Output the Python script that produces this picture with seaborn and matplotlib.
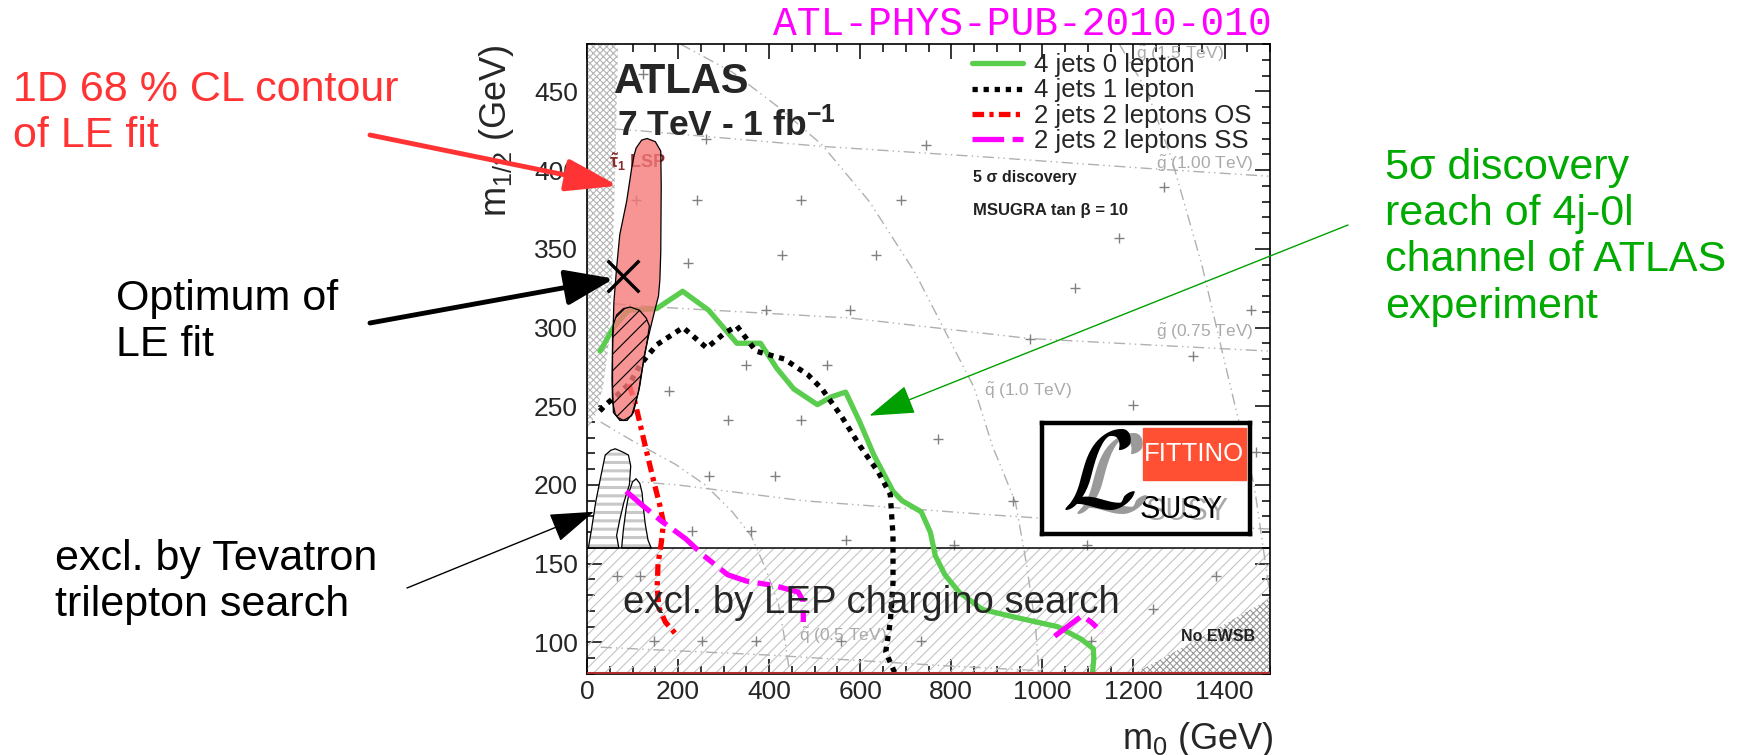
import matplotlib
matplotlib.use('Agg')
import numpy as np
import pandas as pd
import matplotlib.pyplot as plt
import seaborn as sns
from matplotlib.patches import Polygon, Rectangle
from matplotlib.ticker import MultipleLocator
from matplotlib import font_manager

# ---- data (m0, m1/2 in GeV) ----
green_m0 = [29, 58, 91, 153, 210, 267, 329, 381, 417, 454, 506, 537, 568, 599, 630, 672, 692,
            734, 754, 765, 786, 817, 868, 941, 1034, 1086, 1112, 1113, 1110]
green_m12 = [285, 300, 311, 312, 323, 311, 290, 290, 274, 261, 251, 256, 259, 240, 219, 196, 190,
             183, 170, 155, 143, 132, 121, 116, 110, 102, 96, 90, 80]

black_m0 = [28, 45, 70, 95, 116, 153, 211, 263, 300, 329, 371, 433, 485, 516, 558, 599, 640,
            666, 672, 672, 666, 656, 677]
black_m12 = [247, 252, 258, 265, 276, 289, 300, 287, 296, 301, 285, 280, 270, 261, 244, 225, 208,
             194, 168, 138, 113, 94, 80]

red_m0 = [92, 105, 118, 131, 146, 160, 168, 163, 156, 154, 158, 172, 196]
red_m12 = [264, 253, 237, 221, 203, 187, 176, 163, 150, 135, 122, 113, 105]

mag_a_m0 = [86, 122, 164, 216, 257, 309, 350, 413, 464, 475, 475]
mag_a_m12 = [196, 187, 177, 166, 155, 143, 139, 136, 132, 126, 113]
mag_b_m0 = [1027, 1087, 1107, 1133]
mag_b_m12 = [104, 117, 113, 106]

# LE fit 1D 68% CL contour and the hatched contour inside it
fit_m0 = [108, 120, 132, 150, 162, 163, 162, 160, 157, 149, 138, 127, 116, 102, 88, 72, 62, 56,
          55, 56, 59, 65, 72, 87, 98, 104]
fit_m12 = [414, 419, 420, 418, 412, 390, 348, 330, 320, 311, 298, 284, 263, 246, 241, 241, 245,
           253, 268, 285, 316, 338, 359, 380, 401, 410]
hatch_m0 = [95, 115, 130, 137, 131, 120, 113, 98, 80, 67, 58, 56, 56, 58, 65, 80]
hatch_m12 = [313, 311, 306, 301, 289, 272, 259, 244, 241, 243, 246, 263, 295, 302, 308, 312]
best_m0 = [78]
best_m12 = [333]

# Tevatron trilepton exclusions
tev1_m0 = [3, 10, 19, 30, 40, 52, 62, 78, 91, 96, 93, 81, 72, 65, 68, 70]
tev1_m12 = [160, 172, 189, 205, 219, 222, 223, 221, 219, 212, 200, 189, 178, 168, 163, 160]
tev2_m0 = [76, 80, 86, 93, 100, 108, 116, 121, 124, 128, 134, 141]
tev2_m12 = [160, 172, 185, 196, 202, 204, 201, 195, 185, 175, 165, 160]

# theoretically excluded regions
stau_m0 = [0, 68, 62, 55, 48, 35, 20, 0]
stau_m12 = [480, 480, 400, 330, 290, 262, 245, 235]
noewsb_m0 = [1200, 1360, 1500, 1500]
noewsb_m12 = [80, 105, 128, 80]
lep_m12 = 160

# iso-mass lines
iso_lines = {
    'g100': ([60, 112, 516, 889, 1231, 1500], [426, 425, 415, 408, 401, 396]),
    'g075': ([60, 153, 578, 972, 1231, 1500], [315, 313, 306, 293, 289, 285]),
    'g050': ([30, 200, 475, 889, 993, 1500], [204, 200, 190, 181, 179, 172]),
    'g025': ([30, 400, 800, 1000], [97, 92, 85, 82]),
    'q05': ([30, 100, 195, 260, 319, 360, 392, 420, 433, 444], [240, 228, 213, 200, 183, 168, 147, 125, 104, 83]),
    'q10': ([205, 320, 420, 516, 620, 720, 800, 850, 890, 941, 965, 985, 993], [480, 462, 440, 416, 380, 335, 290, 262, 225, 189, 150, 110, 80]),
    'q15': ([1169, 1230, 1283, 1350, 1407, 1440, 1465, 1485, 1500], [480, 450, 408, 340, 270, 230, 200, 160, 130]),
}
iso_label_text = [r'$\tilde{g}$ (1.00 TeV)', r'$\tilde{g}$ (0.75 TeV)', r'$\tilde{q}$ (1.0 TeV)',
                  r'$\tilde{q}$ (0.5 TeV)', r'$\tilde{g}$ (1.5 TeV)']
iso_label_m0 = [1250, 1250, 872, 465, 1205]
iso_label_m12 = [404, 297, 260, 104, 474]

# scan points
plus_m0 = [122, 262, 744, 107, 241, 470, 690, 1268, 428, 635, 221, 1169, 1071, 392, 578, 1459,
           972, 1330, 350, 527, 179, 309, 470, 1200, 770, 267, 413, 936, 231, 361, 568, 806, 1097,
           65, 117, 1382, 1242, 148, 252, 371, 558, 734, 672, 1470, 1107]
plus_m12 = [461, 420, 416, 381, 381, 381, 381, 389, 346, 346, 341, 357, 325, 311, 311, 311, 293,
            282, 276, 276, 260, 241, 241, 251, 229, 206, 206, 190, 171, 171, 165, 162, 162, 142,
            142, 142, 121, 101, 101, 101, 101, 101, 126, 221, 101]

legend_labels = ['4 jets 0 lepton', '4 jets 1 lepton', '2 jets 2 leptons OS', '2 jets 2 leptons SS']

# ---- style ----
sns.set_style('ticks')
plt.rcParams['font.family'] = ['Liberation Sans', 'DejaVu Sans']
plt.rcParams['mathtext.fontset'] = 'custom'
plt.rcParams['mathtext.rm'] = 'Liberation Sans'
plt.rcParams['mathtext.it'] = 'Liberation Sans:italic'
plt.rcParams['mathtext.bf'] = 'Liberation Sans:bold'
plt.rcParams['mathtext.default'] = 'regular'
plt.rcParams['hatch.linewidth'] = 0.8

names = {f.name for f in font_manager.fontManager.ttflist}
narrow = 'Liberation Sans Narrow' if 'Liberation Sans Narrow' in names else None

fig = plt.figure(figsize=(17.46, 7.55), dpi=100)
ax = fig.add_axes([0.3362, 0.1073, 0.3912, 0.8344])
ax.set_xlim(0, 1500)
ax.set_ylim(80, 480)


def region(xs, ys, **kw):
    p = Polygon(np.column_stack([xs, ys]), closed=True, **kw)
    ax.add_patch(p)
    return p


def curve(xs, ys, **kw):
    df = pd.DataFrame({'m0': xs, 'm12': ys})
    sns.lineplot(data=df, x='m0', y='m12', sort=False, estimator=None, ax=ax, **kw)
    return ax.lines[-1]


# excluded regions
region(stau_m0, stau_m12, facecolor='white', edgecolor='#b5b5b5', hatch='xxxxx', lw=0, zorder=1)
region(noewsb_m0, noewsb_m12, facecolor='white', edgecolor='#9a9a9a', hatch='xxxxx', lw=0, zorder=1.2)
lep = Rectangle((0, 80), 1500, lep_m12 - 80, facecolor='none', edgecolor='#c4c4c4', hatch='///', lw=0, zorder=1)
ax.add_patch(lep)
ax.axhline(lep_m12, color='black', lw=1.1, zorder=2.1)

# iso-mass lines and labels
for key, (xs, ys) in iso_lines.items():
    curve(xs, ys, color='#b0b0b0', lw=1.0, linestyle=(0, (8, 3, 1, 3, 1, 3)), zorder=1.5)
for t, x, y in zip(iso_label_text, iso_label_m0, iso_label_m12):
    ax.text(x, y, t, color='#aaaaaa', fontsize=12.5, va='center', ha='left', zorder=1.7)

sns.scatterplot(x=plus_m0, y=plus_m12, marker='+', color='#808080', s=55, linewidth=1, ax=ax, zorder=1.6)

# Tevatron exclusions
for xs, ys in [(tev1_m0, tev1_m12), (tev2_m0, tev2_m12)]:
    p = region(xs, ys, facecolor='white', edgecolor='#c8c8c8', hatch='--', lw=0, zorder=2)
    if hasattr(p, 'set_hatch_linewidth'):
        p.set_hatch_linewidth(2.2)
    region(xs, ys, fill=False, edgecolor='black', lw=0.9, zorder=2.2)

# discovery reach curves
lw = 3.8
g_line = curve(green_m0, green_m12, color='#5acd4f', lw=lw, zorder=3)
k_line = curve(black_m0, black_m12, color='black', lw=lw, linestyle=(0, (1, 1.1)), zorder=3)
r_line = curve(red_m0, red_m12, color='#ff0000', lw=lw, linestyle=(0, (2.2, 1, 0.8, 1)), zorder=3)
m_line = curve(mag_a_m0, mag_a_m12, color='#ff00ff', lw=lw, linestyle=(0, (6, 1.6, 2.4, 1.6)), zorder=3)
curve(mag_b_m0, mag_b_m12, color='#ff00ff', lw=lw, linestyle=(0, (6, 1.6, 2.4, 1.6)), zorder=3)

ax.text(48, 405, r'$\tilde{\tau}_1$ LSP', color='#8b2a2a', fontsize=13, fontweight='bold',
        va='center', zorder=2.5)

# LE fit
region(fit_m0, fit_m12, facecolor=(0.9625, 0.475, 0.475, 0.8), edgecolor='black', lw=0.9, zorder=4)
region(hatch_m0, hatch_m12, facecolor='none', edgecolor='black', hatch='//', lw=0.9, zorder=4.5)
sns.scatterplot(x=best_m0, y=best_m12, marker='x', color='black', s=520, linewidth=2.4, ax=ax, zorder=5)

# bottom frame line
ax.axhline(80.6, color='#b03030', lw=1.5, zorder=5)

# texts in the frame
ax.text(59, 449, 'ATLAS', fontsize=30, fontweight='bold', va='baseline', zorder=6)
ax.text(66, 421.5, r'7 TeV - 1 fb$^{-1}$', fontsize=25.5, fontweight='bold', va='baseline', zorder=6)
ax.text(848, 395.5, '5 σ discovery', fontsize=11.5, fontweight='bold', va='center', color='#222222')
ax.text(848, 374.5, 'MSUGRA tan β = 10', fontsize=12, fontweight='bold', va='center', color='#222222')
ax.text(1385, 104, 'No EWSB', fontsize=11.5, fontweight='bold', ha='center', va='center',
        color='#222222', zorder=6)
ax.text(79, 118.8, 'excl. by LEP chargino search', fontsize=27.6, va='baseline', zorder=6)

leg = ax.legend(handles=[g_line, k_line, r_line, m_line], labels=legend_labels, loc='upper left',
                bbox_to_anchor=(0.5637, 0.985), frameon=False, fontsize=18.5, handlelength=2.0,
                handletextpad=0.4, labelspacing=0.04, borderpad=0, borderaxespad=0)
leg.set_zorder(6)

# axes styling (ROOT look)
ax.set_xticks(range(0, 1401, 200))
ax.set_yticks(range(100, 451, 50))
ax.xaxis.set_minor_locator(MultipleLocator(50))
ax.yaxis.set_minor_locator(MultipleLocator(10))
ax.tick_params(which='both', direction='in', top=True, right=True, labelsize=19, width=1.1, color='black')
ax.tick_params(which='major', length=11)
ax.tick_params(which='minor', length=5.5)
ax.tick_params(axis='x', pad=4.5)
ax.tick_params(axis='y', pad=6.5)
for s in ax.spines.values():
    s.set_linewidth(1.2)
    s.set_color('black')
ax.set_xlabel('')
ax.set_ylabel('')
ax.text(1.006, -0.1195, r'm$_0$ (GeV)', transform=ax.transAxes, ha='right', va='baseline', fontsize=26)
ax.text(-0.133, 1.0, r'm$_{1/2}$ (GeV)', transform=ax.transAxes, ha='center', va='top',
        rotation=90, fontsize=26)

# outside annotations
fig.text(773 / 1746, 1 - 35 / 755, 'ATL-PHYS-PUB-2010-010', family='Liberation Mono', fontsize=28.5,
         color='#ff00ff', va='baseline')
fig.text(13 / 1746, 1 - 70 / 755, '1D 68 % CL contour\nof LE fit', color='#ff3333', fontsize=31,
         va='top', ha='left')
fig.text(116 / 1746, 1 - 279 / 755, 'Optimum of\nLE fit', color='black', fontsize=31, va='top', ha='left')
fig.text(55 / 1746, 1 - 539 / 755, 'excl. by Tevatron\ntrilepton search', color='black', fontsize=31,
         va='top', ha='left')
fig.text(1385 / 1746, 1 - 148 / 755, '5σ discovery\nreach of 4j-0l\nchannel of ATLAS\nexperiment',
         color='#00aa00', fontsize=31, va='top', ha='left')

arrows = [
    ((68, 390), (370, 755 - 135), '#ff3333', 3.5, 1.6, 0.5),
    ((59, 331), (370, 755 - 323), 'black', 3.5, 1.5, 0.55),
    ((15, 183), (407, 755 - 588), 'black', 1.0, 1.4, 0.47),
    ((620, 244), (1348, 755 - 225), '#00a000', 1.0, 1.45, 0.47),
]
for tip, tail, col, w, hl, hw in arrows:
    ax.annotate('', xy=tip, xycoords='data', xytext=tail, textcoords='figure pixels',
                arrowprops=dict(arrowstyle=f'-|>,head_length={hl},head_width={hw}', color=col, lw=w,
                                mutation_scale=20, shrinkA=0, shrinkB=0), zorder=7,
                annotation_clip=False)

# Fittino logo
axl = fig.add_axes([1041.7 / 1746, 1 - 534 / 755, 208.3 / 1746, 110.7 / 755])
axl.set_xlim(0, 1)
axl.set_ylim(0, 1)
axl.set_xticks([])
axl.set_yticks([])
axl.set_facecolor('white')
for s in axl.spines.values():
    s.set_linewidth(3.2)
    s.set_color('black')
axl.add_patch(Rectangle((0.485, 0.488), 0.495, 0.47, color='#ff5033'))
fit_font = dict(family=narrow, fontsize=21) if narrow else dict(fontsize=18.5)
susy_font = dict(family=narrow, fontsize=26) if narrow else dict(fontsize=22)
axl.text(0.732, 0.72, 'FITTINO', color='white', ha='center', va='center', **fit_font)
axl.text(0.70, 0.20, 'SUSY', color='#a8a8a8', ha='center', va='center', **susy_font)
axl.text(0.671, 0.217, 'SUSY', color='black', ha='center', va='center', **susy_font)
axl.text(0.33, 0.46, r'$\mathcal{L}$', math_fontfamily='cm', color='#9a9a9a', fontsize=80,
         ha='center', va='center')
axl.text(0.27, 0.50, r'$\mathcal{L}$', math_fontfamily='cm', color='black', fontsize=80,
         ha='center', va='center')

fig.savefig('out.png', dpi=100)
